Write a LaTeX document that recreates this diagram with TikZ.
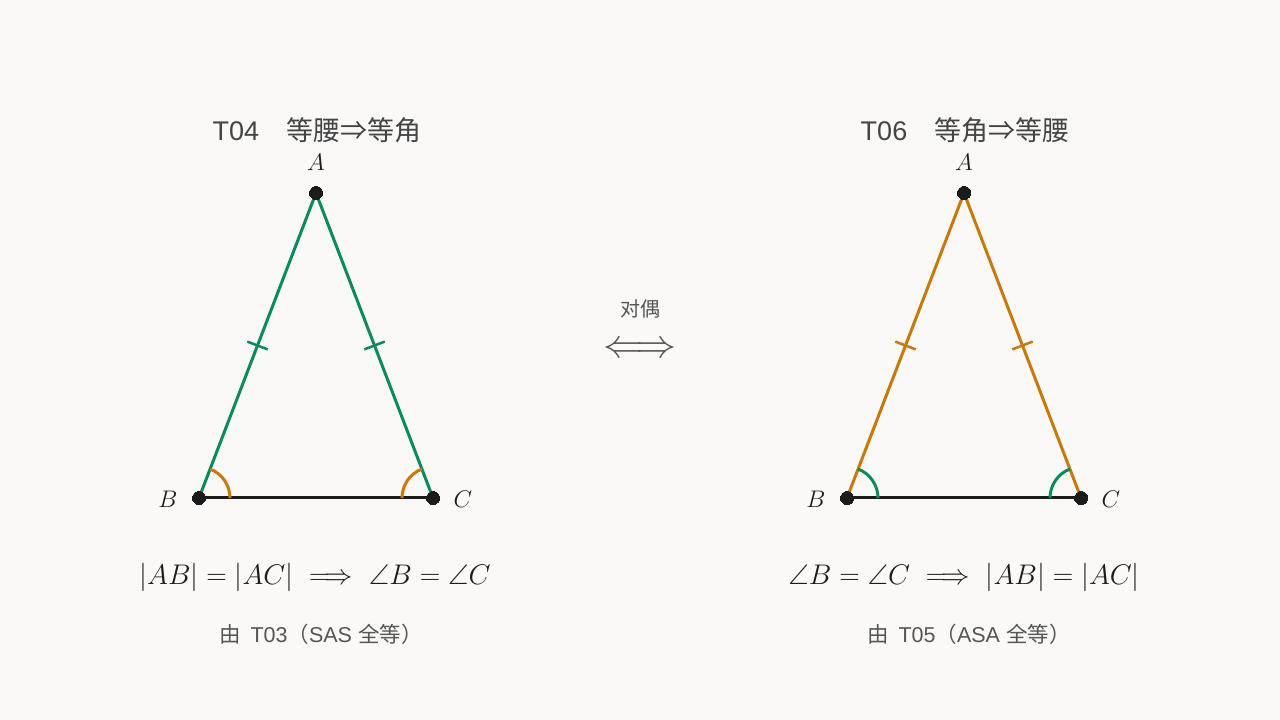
\RequirePackage{fix-cm}
\documentclass[tikz,border=0pt]{standalone}
\usepackage{amsmath}
\usepackage{amssymb}
\usepackage[no-math]{fontspec}
\usepackage{tikz}
\usetikzlibrary{calc}
\setmainfont{Liberation Sans}
\newfontfamily\cjk{Noto Sans CJK SC}
\definecolor{paper}{HTML}{FAF9F7}
\definecolor{sidegreen}{HTML}{0B8A5E}
\definecolor{sideorange}{HTML}{C7790B}
\definecolor{ink}{HTML}{1C1C1C}
\definecolor{note}{HTML}{555555}

\begin{document}
\begin{tikzpicture}[x=1pt,y=1pt,line width=3pt]
  \fill[paper] (0,0) rectangle (1280,720);
  \useasboundingbox (0,0) rectangle (1280,720);
  % left: T04
  \begin{scope}[xshift=0pt]
    \coordinate (lA) at (316,527);
    \coordinate (lB) at (199,222);
    \coordinate (lC) at (433,222);
    \node[note!80!black] (ltitle) at (317,590) {\fontsize{27}{31}\selectfont T04\quad{\cjk 等腰⇒等角}};
    \node[ink] (llA) at (316,558) {\fontsize{24}{28}\selectfont $A$};
    \node[ink] (llB) at (168,221) {\fontsize{24}{28}\selectfont $B$};
    \node[ink] (llC) at (463,221) {\fontsize{24}{28}\selectfont $C$};
    \draw[sidegreen] (lB) -- (lA) -- (lC);
    \foreach \p in {lB,lC}
    {
      \draw[sidegreen,line width=2.5pt] ($(lA)!0.5!(\p)!11pt!90:(\p)$) -- ($(lA)!0.5!(\p)!11pt!-90:(\p)$);
    }
    \draw[ink] (lB) -- (lC);
    \draw[sideorange] ([shift={(0:31)}]lB) arc[start angle=0,end angle=69,radius=31];
    \draw[sideorange] ([shift={(111:31)}]lC) arc[start angle=111,end angle=180,radius=31];
    \filldraw[ink,line width=0pt] (lA) circle (6.5); 
    \filldraw[ink,line width=0pt] (lB) circle (6.5); 
    \filldraw[ink,line width=0pt] (lC) circle (6.5);
    \node[ink,inner sep=0pt] (leq) at (315,143) {\fontsize{28.4}{33}\selectfont $|AB| = |AC| \implies \angle B = \angle C$};
    \node[note] (lnote) at (321,86) {\fontsize{21.5}{25}\selectfont {\cjk 由}\, T03{\cjk （}SAS {\cjk 全等）}};
  \end{scope}
  % right: T06
  \begin{scope}[xshift=0pt]
    \coordinate (rA) at (964,527);
    \coordinate (rB) at (847,222);
    \coordinate (rC) at (1081,222);
    \node[note!80!black] (rtitle) at (965,590) {\fontsize{27}{31}\selectfont T06\quad{\cjk 等角⇒等腰}};
    \node[ink] (rlA) at (964,558) {\fontsize{24}{28}\selectfont $A$};
    \node[ink] (rlB) at (816,221) {\fontsize{24}{28}\selectfont $B$};
    \node[ink] (rlC) at (1111,221) {\fontsize{24}{28}\selectfont $C$};
    \draw[sideorange] (rB) -- (rA) -- (rC);
    \foreach \p in {rB,rC}
    {
      \draw[sideorange,line width=2.5pt] ($(rA)!0.5!(\p)!11pt!90:(\p)$) -- ($(rA)!0.5!(\p)!11pt!-90:(\p)$);
    }
    \draw[ink] (rB) -- (rC);
    \draw[sidegreen] ([shift={(0:31)}]rB) arc[start angle=0,end angle=69,radius=31];
    \draw[sidegreen] ([shift={(111:31)}]rC) arc[start angle=111,end angle=180,radius=31];
    \filldraw[ink,line width=0pt] (rA) circle (6.5); 
    \filldraw[ink,line width=0pt] (rB) circle (6.5); 
    \filldraw[ink,line width=0pt] (rC) circle (6.5);
    \node[ink,inner sep=0pt] (req) at (964,143) {\fontsize{28.4}{33}\selectfont $\angle B = \angle C \implies |AB| = |AC|$};
    \node[note] (rnote) at (969,86) {\fontsize{21.5}{25}\selectfont {\cjk 由}\, T05{\cjk （}ASA {\cjk 全等）}};
  \end{scope}
  % middle
  \node[note] (dual) at (640,411) {\fontsize{20}{24}\selectfont\cjk 对偶};
  \node[note,inner sep=0pt] (iff) at (640,370) {\fontsize{40}{44}\selectfont $\Longleftrightarrow$};
\end{tikzpicture}
\end{document}
